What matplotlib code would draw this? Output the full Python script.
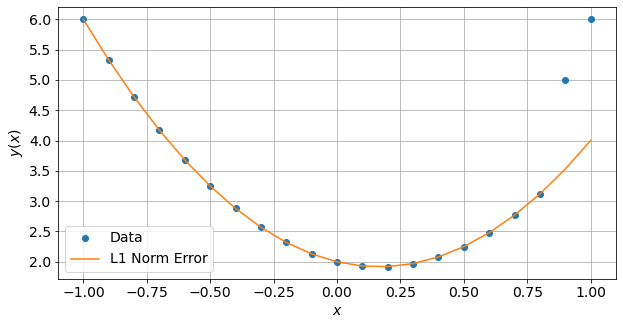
import matplotlib
matplotlib.use("Agg")
import matplotlib.pyplot as plt

# data
x = [-1.0, -0.9, -0.8, -0.7, -0.6, -0.5, -0.4, -0.3, -0.2, -0.1, 0.0,
     0.1, 0.2, 0.3, 0.4, 0.5, 0.6, 0.7, 0.8, 0.9, 1.0]
y_data = [6.0, 5.33, 4.72, 4.17, 3.68, 3.25, 2.88, 2.57, 2.32, 2.13, 2.0,
          1.93, 1.92, 1.97, 2.08, 2.25, 2.48, 2.77, 3.12, 5.0, 6.0]
y_fit = [6.0, 5.33, 4.72, 4.17, 3.68, 3.25, 2.88, 2.57, 2.32, 2.13, 2.0,
         1.93, 1.92, 1.97, 2.08, 2.25, 2.48, 2.77, 3.12, 3.53, 4.0]

plt.rcParams["font.size"] = 14
fig = plt.figure(figsize=(623 / 72, 325 / 72), dpi=72)
ax = fig.add_subplot(111)
fig.subplots_adjust(left=58 / 623, right=616 / 623, top=1 - 7 / 325, bottom=1 - 279 / 325)

ax.plot(x, y_data, "o", label="Data")
ax.plot(x, y_fit, label="L1 Norm Error")
ax.set_xlabel("$x$")
ax.set_ylabel("$y(x)$")
ax.grid(True)
ax.legend(loc="lower left")

fig.savefig("out.png", dpi=72)
